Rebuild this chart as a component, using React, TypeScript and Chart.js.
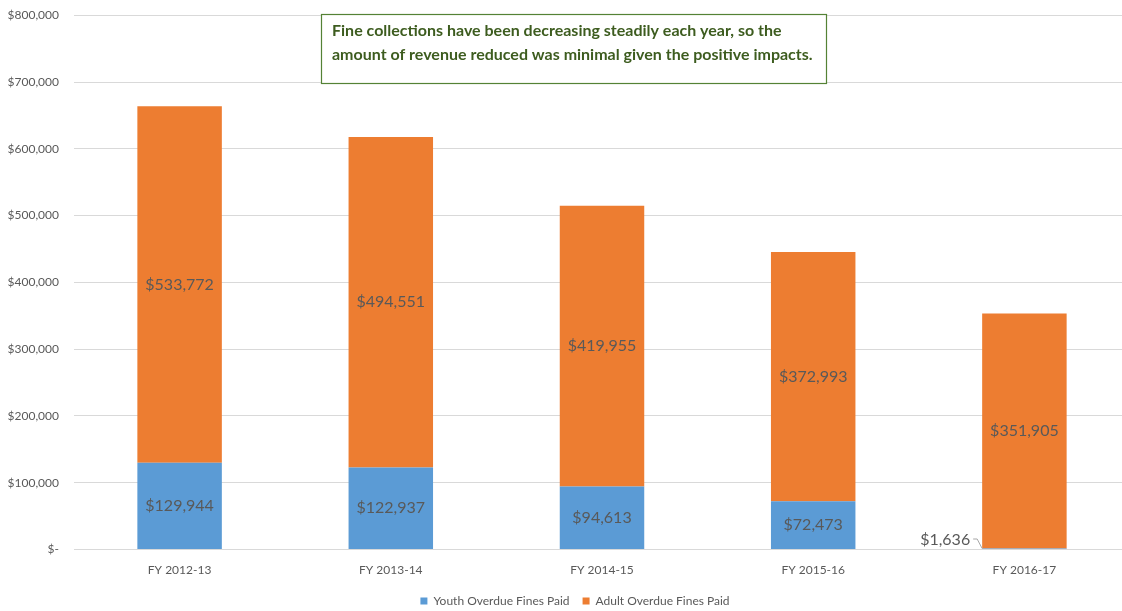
import React, { useEffect, useRef } from "react";
import { Chart, registerables } from "chart.js";

Chart.register(...registerables);

const categories = ["FY 2012-13", "FY 2013-14", "FY 2014-15", "FY 2015-16", "FY 2016-17"];
const youthFines = [129944, 122937, 94613, 72473, 1636];
const adultFines = [533772, 494551, 419955, 372993, 351905];
const seriesNames = ["Youth Overdue Fines Paid", "Adult Overdue Fines Paid"];
const noteLines = [
  "Fine collections have been decreasing steadily each year, so the",
  "amount of revenue reduced was minimal given the positive impacts.",
];

const FONT = "Lato, 'Open Sans', sans-serif";
const TOP_SHIFT = 7;

function money(v: number): string {
  return "$" + v.toLocaleString("en-US");
}

const labelPlugin = {
  id: "barLabels",
  afterDatasetsDraw(chart: any) {
    const ctx = chart.ctx;
    ctx.save();
    ctx.font = `16px ${FONT}`;
    ctx.fillStyle = "#595959";
    ctx.textBaseline = "middle";
    chart.data.datasets.forEach((ds: any, di: number) => {
      const meta = chart.getDatasetMeta(di);
      meta.data.forEach((bar: any, i: number) => {
        const v = ds.data[i] as number;
        const text = money(v);
        const h = Math.abs(bar.base - bar.y);
        if (h > 24) {
          ctx.textAlign = "center";
          ctx.fillText(text, bar.x, (bar.y + bar.base) / 2);
        } else {
          const left = bar.x - bar.width / 2;
          ctx.textAlign = "right";
          ctx.fillText(text, left - 12, bar.y - 9);
          ctx.strokeStyle = "#a6a6a6";
          ctx.lineWidth = 1;
          ctx.beginPath();
          ctx.moveTo(left - 9, bar.y - 9.5);
          ctx.lineTo(left - 5, bar.y - 9.5);
          ctx.lineTo(left, bar.y);
          ctx.stroke();
        }
      });
    });
    ctx.restore();
  },
};

const notePlugin = {
  id: "noteBox",
  afterDraw(chart: any) {
    const ctx = chart.ctx;
    const dy = TOP_SHIFT;
    ctx.save();
    ctx.fillStyle = "#ffffff";
    ctx.fillRect(321.5, 14.5 + dy, 505, 69);
    ctx.strokeStyle = "#548235";
    ctx.lineWidth = 1.2;
    ctx.strokeRect(321.5, 14.5 + dy, 505, 69);
    ctx.fillStyle = "#3d5c1f";
    ctx.font = `bold 16px ${FONT}`;
    ctx.textAlign = "left";
    ctx.textBaseline = "middle";
    ctx.fillText(noteLines[0], 332, 31 + dy);
    ctx.fillText(noteLines[1], 332, 55 + dy);
    ctx.restore();
  },
};

export default function App() {
  const ref = useRef<HTMLCanvasElement>(null);
  useEffect(() => {
    if (!ref.current) return;
    const chart = new Chart(ref.current, {
      type: "bar",
      data: {
        labels: categories,
        datasets: [
          {
            label: seriesNames[0],
            data: youthFines,
            backgroundColor: "#5b9bd5",
            categoryPercentage: 1,
            barPercentage: 0.4,
          },
          {
            label: seriesNames[1],
            data: adultFines,
            backgroundColor: "#ed7d31",
            categoryPercentage: 1,
            barPercentage: 0.4,
          },
        ],
      },
      options: {
        animation: false,
        responsive: false,
        maintainAspectRatio: false,
        layout: { padding: { top: 3, right: 0, left: 0, bottom: 0 } },
        scales: {
          x: {
            stacked: true,
            grid: { display: false },
            border: { display: false },
            ticks: { color: "#595959", font: { family: FONT, size: 12 }, padding: 5 },
          },
          y: {
            stacked: true,
            min: 0,
            max: 800000,
            afterFit(scale: any) {
              scale.width = 74;
            },
            grid: { color: "#d9d9d9", drawTicks: false, lineWidth: 1 },
            border: { display: false },
            ticks: {
              stepSize: 100000,
              color: "#595959",
              padding: 15,
              font: { family: FONT, size: 12 },
              callback: (v: any) => (Number(v) === 0 ? "$-" : money(Number(v))),
            },
          },
          yRightSpace: {
            type: "linear",
            position: "right",
            min: 0,
            max: 800000,
            grid: { display: false },
            border: { display: false },
            ticks: { display: false },
            afterFit(scale: any) {
              scale.width = 20;
            },
          },
        },
        plugins: {
          legend: {
            position: "bottom",
            labels: {
              color: "#595959",
              font: { family: FONT, size: 12 },
              boxWidth: 7,
              boxHeight: 7,
              padding: 13,
            },
          },
          tooltip: { enabled: false },
          title: { display: false },
        },
      },
      plugins: [labelPlugin, notePlugin],
    });
    return () => chart.destroy();
  }, []);
  return (
    <div
      style={{
        position: "fixed",
        left: 0,
        top: 0,
        width: 1122,
        height: 611,
        overflow: "hidden",
        background: "#fff",
      }}
    >
      <canvas
        ref={ref}
        width={1150}
        height={624}
        style={{ display: "block", position: "absolute", left: 0, top: -TOP_SHIFT }}
      />
    </div>
  );
}
